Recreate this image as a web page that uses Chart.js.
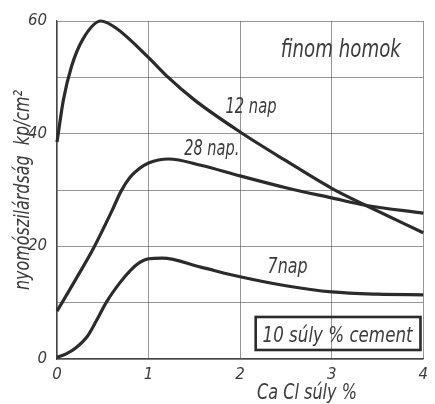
<!DOCTYPE html>
<html>
<head>
<meta charset="utf-8">
<script src="https://cdn.jsdelivr.net/npm/chart.js@4.4.1/dist/chart.umd.min.js"></script>
<style>
  html, body { margin: 0; padding: 0; background: #ffffff; }
  canvas { display: block; }
</style>
</head>
<body>
<canvas id="chart" width="435" height="404"></canvas>
<script>
// Compressive strength of fine sand with 10 % cement vs. CaCl content
const xTickValues = [0, 1, 2, 3, 4];
const yTickLabels = [0, 20, 40, 60];

const seriesNames = ['12 nap', '28 nap.', '7nap'];

const cacl12 = [0, 0.07, 0.16, 0.28, 0.48, 0.64, 1, 1.2, 1.5, 2, 2.5, 3, 3.37, 4];
const str12  = [38.5, 46, 52, 56.7, 60, 58.8, 53.5, 50.2, 46, 40.3, 35.2, 30.3, 27.3, 22.4];

const cacl28 = [0, 0.2, 0.4, 0.6, 0.7, 0.8, 0.9, 1, 1.22, 1.57, 2, 2.5, 3, 3.37, 4];
const str28  = [8.5, 14, 19.7, 26.3, 29.8, 32.3, 33.8, 34.8, 35.5, 34.4, 32.5, 30.4, 28.6, 27.3, 25.9];

const cacl7 = [0, 0.1, 0.2, 0.33, 0.43, 0.54, 0.69, 0.8, 0.9, 1, 1.15, 1.57, 2, 2.5, 3, 3.5, 4];
const str7  = [0.3, 0.9, 1.9, 4.0, 6.8, 10.1, 13.6, 15.7, 17.1, 17.8, 17.9, 16.3, 14.6, 13, 11.9, 11.5, 11.4];

const FONT = "'DejaVu Sans', 'Liberation Sans', sans-serif";
const INK = '#2b2b2b';
const TEXT = '#3c3c3c';

const toPoints = (xs, ys) => xs.map((x, i) => ({ x: x, y: ys[i] }));

// in-plot captions, anchored in data units; "width" is the condensed run length in px
const captions = [
  { text: 'finom homok',    x: 3.1,   y: 53.6, align: 'center', size: 24, width: 120 },
  { text: seriesNames[0],   x: 1.84,  y: 43.7, align: 'left',   size: 21, width: 51 },
  { text: seriesNames[1],   x: 1.39,  y: 36.2, align: 'left',   size: 21, width: 55 },
  { text: seriesNames[2],   x: 2.30,  y: 15.3, align: 'left',   size: 22, width: 40 },
  { text: '10 súly % cement', x: 2.245, y: 3.0, align: 'left',  size: 22, width: 150 }
];
const frameBox = { x0: 2.17, x1: 3.97, y0: 7.46, y1: 1.6 };

const lineStyle = {
  borderColor: INK,
  borderWidth: 3.2,
  pointRadius: 0,
  fill: false,
  cubicInterpolationMode: 'monotone',
  clip: false
};

// draws text squeezed horizontally to a given run length (narrow lettering)
function narrowText(ctx, text, x, y, width, align) {
  const natural = ctx.measureText(text).width;
  const k = Math.min(1, width / natural);
  ctx.save();
  ctx.translate(x, y);
  ctx.scale(k, 1);
  ctx.textAlign = align;
  ctx.fillText(text, 0, 0);
  ctx.restore();
}

const annotate = {
  id: 'annotate',
  afterDatasetsDraw(chart) {
    const ctx = chart.ctx;
    const xs = chart.scales.x, ys = chart.scales.y;
    const area = chart.chartArea;
    ctx.save();
    ctx.fillStyle = TEXT;
    ctx.textBaseline = 'alphabetic';
    captions.forEach(c => {
      ctx.font = 'italic ' + c.size + 'px ' + FONT;
      narrowText(ctx, c.text, xs.getPixelForValue(c.x), ys.getPixelForValue(c.y), c.width, c.align);
    });

    // framed note
    const bx0 = xs.getPixelForValue(frameBox.x0), bx1 = xs.getPixelForValue(frameBox.x1);
    const by0 = ys.getPixelForValue(frameBox.y0), by1 = ys.getPixelForValue(frameBox.y1);
    ctx.strokeStyle = INK;
    ctx.lineWidth = 2.6;
    ctx.strokeRect(bx0, by0, bx1 - bx0, by1 - by0);

    // axis titles
    ctx.font = 'italic 21px ' + FONT;
    narrowText(ctx, 'Ca Cl súly %', area.left + 250, chart.height - 5, 100, 'center');

    ctx.translate(23, 190);
    ctx.rotate(-Math.PI / 2);
    ctx.font = 'italic 22px ' + FONT;
    ctx.textBaseline = 'middle';
    narrowText(ctx, 'nyomószilárdság  kp/cm²', 0, 0, 200, 'center');
    ctx.restore();
  }
};

const tickFont = { family: FONT, size: 15, style: 'italic' };

new Chart(document.getElementById('chart'), {
  type: 'line',
  data: {
    datasets: [
      Object.assign({ label: seriesNames[0], data: toPoints(cacl12, str12) }, lineStyle),
      Object.assign({ label: seriesNames[1], data: toPoints(cacl28, str28) }, lineStyle),
      Object.assign({ label: seriesNames[2], data: toPoints(cacl7, str7) }, lineStyle)
    ]
  },
  options: {
    responsive: false,
    animation: false,
    devicePixelRatio: 1,
    layout: { padding: { top: 21, right: 2, left: 0, bottom: 0 } },
    plugins: {
      legend: { display: false },
      tooltip: { enabled: false }
    },
    scales: {
      x: {
        type: 'linear',
        min: 0,
        max: 4,
        afterBuildTicks: s => { s.ticks = xTickValues.map(v => ({ value: v })); },
        afterFit: s => { s.height = 45; },
        ticks: {
          color: TEXT,
          padding: 7,
          font: tickFont,
          callback: v => String(v)
        },
        grid: { color: 'rgba(80,80,80,0.6)', lineWidth: 1, drawTicks: false },
        border: { color: 'rgba(50,50,50,0.9)', width: 1.2 }
      },
      y: {
        min: 0,
        max: 60,
        ticks: {
          stepSize: 10,
          color: TEXT,
          padding: 10,
          font: tickFont,
          callback: v => yTickLabels.includes(v) ? String(v) : ''
        },
        afterFit: s => { s.width = 57; },
        grid: { color: 'rgba(80,80,80,0.6)', lineWidth: 1, drawTicks: false },
        border: { color: 'rgba(50,50,50,0.9)', width: 1.2 }
      }
    }
  },
  plugins: [annotate]
});
</script>
</body>
</html>
